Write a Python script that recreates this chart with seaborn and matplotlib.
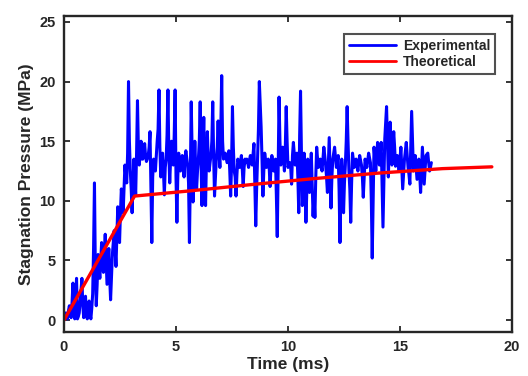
import numpy as np
import pandas as pd
import matplotlib
matplotlib.use("Agg")
import matplotlib.pyplot as plt
import seaborn as sns

# ---- data ----
DT = 0.04  # ms, sampling interval of experimental record
# samples at even steps (0, 0.08, 0.16, ... ms)
exp_pressure_even = [
    0.0, 0.6, 0.1, 1.2, 0.2, 3.1, 0.1, 3.5, 0.3, 1.5,
    3.5, 0.2, 2.0, 0.1, 1.6, 0.1, 2.2, 11.5, 1.2, 5.5,
    3.5, 6.5, 4.0, 7.2, 3.0, 6.0, 1.7, 5.5, 7.5, 4.5,
    9.5, 6.5, 11.0, 9.0, 13.0, 11.5, 20.0, 12.5, 9.0, 13.5,
    10.5, 18.4, 13.0, 15.0, 13.5, 14.8, 13.3, 13.8, 15.8, 6.5,
    13.5, 12.5, 15.0, 19.3, 12.0, 14.0, 10.5, 13.5, 19.3, 11.5,
    15.0, 13.0, 19.3, 8.2, 14.0, 12.5, 13.8, 12.0, 14.2, 13.0,
    6.5, 18.3, 9.9, 15.0, 11.0, 13.5, 18.3, 9.6, 17.0, 9.6,
    15.8, 12.5, 13.8, 18.3, 10.4, 13.5, 16.7, 12.8, 20.5, 13.5,
    14.0, 13.2, 14.2, 10.4, 17.9, 12.5, 10.4, 13.5, 12.8, 13.8,
    11.2, 13.5, 13.5, 12.8, 13.8, 13.0, 14.8, 7.9, 13.5, 20.0,
    16.2, 10.4, 14.0, 12.8, 13.5, 11.2, 13.8, 12.5, 13.5, 7.0,
    18.7, 13.0, 14.5, 12.5, 17.9, 12.8, 13.2, 11.4, 14.9, 13.0,
    14.0, 9.0, 19.2, 9.6, 14.0, 8.2, 13.5, 10.7, 14.0, 8.7,
    8.6, 14.5, 12.8, 13.5, 12.5, 14.5, 13.0, 10.7, 15.3, 9.4,
    13.5, 14.5, 12.8, 13.8, 6.5, 13.5, 9.0, 13.0, 17.9, 12.5,
    8.2, 14.0, 12.8, 13.5, 12.5, 13.8, 13.0, 10.3, 13.5, 12.8,
    14.0, 13.2, 5.2, 14.5, 12.5, 14.9, 13.0, 14.9, 7.8, 15.2,
    17.9, 12.0, 16.6, 13.0, 15.8, 12.9, 13.8, 12.5, 14.5, 11.0,
    13.5, 14.9, 12.8, 11.4, 17.5, 12.5, 13.8, 11.8, 13.5, 10.7,
    14.5, 11.4, 13.8, 14.0, 12.5, 13.2,
]
# samples in between (0.04, 0.12, 0.20, ... ms)
exp_pressure_odd = [
    0.3, 0.2, 0.8, 0.5, 1.5, 0.8, 1.8, 0.1, 0.6, 2.5,
    1.2, 0.9, 0.4, 0.8, 0.5, 1.0, 6.0, 4.0, 3.0, 4.5,
    5.0, 5.0, 5.5, 5.0, 4.5, 3.5, 3.5, 6.5, 6.0, 7.0,
    8.0, 9.0, 10.0, 11.0, 12.0, 14.0, 15.0, 11.0, 11.5, 12.0,
    14.0, 14.5, 14.0, 13.5, 14.0, 13.8, 13.5, 14.5, 11.0, 12.0,
    13.0, 13.8, 16.0, 14.5, 13.2, 12.5, 12.8, 15.5, 14.0, 13.5,
    14.0, 15.5, 12.0, 12.0, 13.2, 13.2, 13.0, 13.5, 13.6, 11.5,
    12.0, 14.0, 12.5, 12.8, 12.5, 15.0, 13.0, 14.0, 12.5, 13.5,
    13.5, 13.2, 15.0, 13.8, 12.0, 14.5, 14.0, 16.0, 15.0, 13.8,
    13.6, 13.7, 12.5, 13.0, 14.5, 12.0, 12.2, 13.2, 13.3, 12.6,
    12.8, 13.2, 13.2, 13.4, 13.2, 13.9, 11.5, 11.0, 16.0, 18.0,
    13.5, 12.5, 13.4, 13.2, 12.8, 12.8, 13.2, 13.0, 10.5, 12.5,
    15.0, 13.8, 13.6, 14.5, 15.0, 13.0, 12.8, 13.8, 14.0, 13.5,
    12.0, 15.5, 14.0, 12.0, 11.5, 11.0, 12.0, 12.5, 11.5, 10.5,
    12.0, 13.5, 13.2, 13.0, 13.5, 13.8, 12.0, 13.0, 12.5, 12.0,
    14.0, 13.6, 13.3, 11.0, 10.5, 12.0, 11.5, 15.0, 15.0, 11.0,
    11.5, 13.4, 13.2, 13.0, 13.2, 13.4, 12.0, 12.0, 13.2, 13.4,
    13.6, 10.0, 10.0, 13.5, 13.8, 14.0, 14.0, 11.5, 11.5, 16.5,
    15.0, 14.5, 14.8, 14.5, 14.5, 13.4, 13.2, 13.5, 12.8, 12.2,
    14.2, 13.8, 12.2, 14.5, 15.0, 13.2, 12.8, 12.7, 12.2, 12.6,
    13.0, 12.6, 13.9, 13.2, 12.8,
]
theory_time = [0.0, 3.15, 5.6, 8.4, 11.2, 14.0, 16.9, 19.1]
theory_pressure = [0.0, 10.4, 10.83, 11.37, 11.87, 12.32, 12.7, 12.85]

x_ticks = [0, 5, 10, 15, 20]
y_ticks = [0, 5, 10, 15, 20, 25]

n_even = len(exp_pressure_even)
exp_p = np.empty(n_even + len(exp_pressure_odd))
exp_p[0::2] = exp_pressure_even
exp_p[1::2] = exp_pressure_odd
exp_time = np.arange(len(exp_p)) * DT
df_exp = pd.DataFrame({"t": exp_time, "p": exp_p})
df_th = pd.DataFrame({"t": theory_time, "p": theory_pressure})

# ---- style ----
sns.set_style("white")
plt.rcParams["font.family"] = ["Liberation Sans", "DejaVu Sans"]
plt.rcParams["font.weight"] = "bold"

fig = plt.figure(figsize=(5.28, 3.76), dpi=100)
ax = fig.add_axes([64 / 528, 44 / 376, 448 / 528, 316 / 376])

sns.lineplot(data=df_exp, x="t", y="p", ax=ax, color="#0000FF", linewidth=2.2,
             label="Experimental", estimator=None, sort=False)
sns.lineplot(data=df_th, x="t", y="p", ax=ax, color="#FF0000", linewidth=2.4,
             label="Theoretical", estimator=None, sort=False)

ax.set_xlim(0, 20)
ax.set_ylim(-1, 25.5)
ax.set_xticks(x_ticks)
ax.set_yticks(y_ticks)
ax.set_xticklabels([str(v) for v in x_ticks], fontsize=10.5, fontweight="bold")
ax.set_yticklabels([str(v) for v in y_ticks], fontsize=10.5, fontweight="bold")
ax.tick_params(direction="in", length=4, width=1.3, top=True, right=True,
               bottom=True, left=True, colors="#262626", pad=6)
for s in ax.spines.values():
    s.set_color("#262626")
    s.set_linewidth(1.7)

ax.set_xlabel("Time (ms)", fontsize=12.5, fontweight="bold", labelpad=2)
ax.set_ylabel("Stagnation Pressure (MPa)", fontsize=12.5, fontweight="bold", labelpad=4)

leg = ax.legend(loc="upper right", bbox_to_anchor=(0.962, 0.943), borderaxespad=0,
                fancybox=False, frameon=True, edgecolor="#262626",
                prop={"weight": "bold", "size": 10}, handlelength=3.4,
                handletextpad=0.5, borderpad=0.35, labelspacing=0.15)
leg.get_frame().set_linewidth(1.5)
for line in leg.get_lines():
    line.set_linewidth(2.0)

fig.savefig("out.png", dpi=100, facecolor="white")
